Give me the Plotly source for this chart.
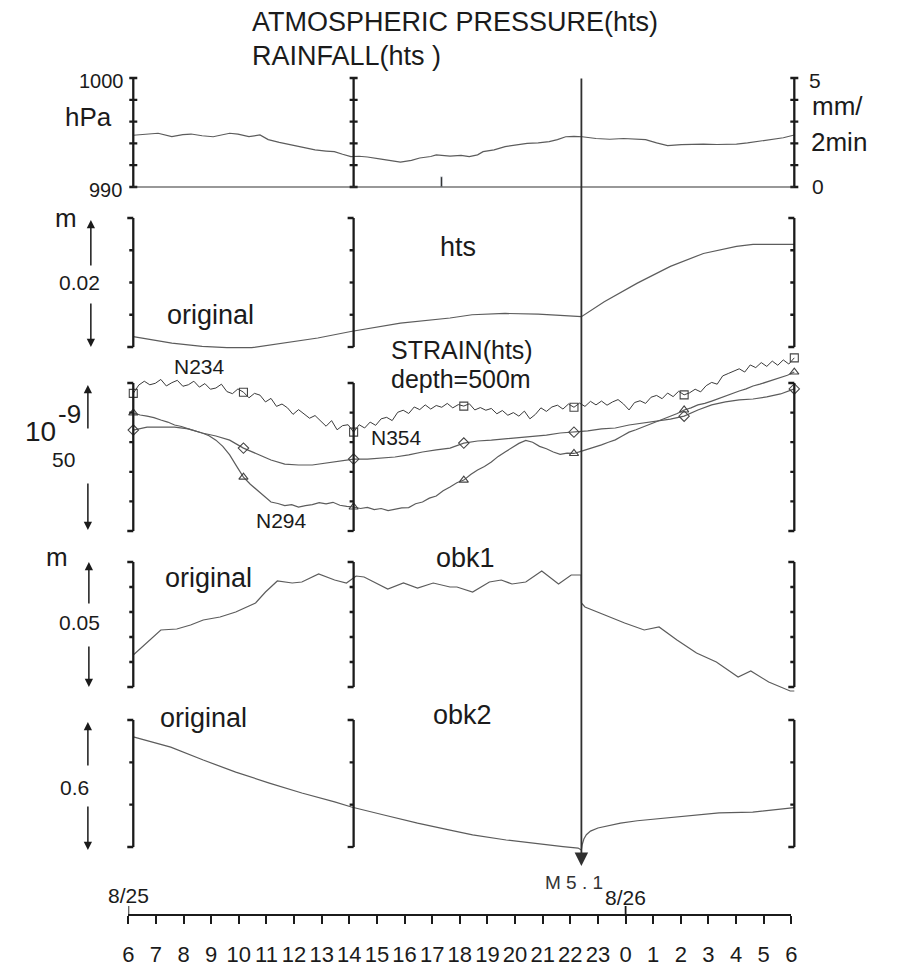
import plotly.graph_objects as go

# ---------------- data ----------------
# time axis: hours from 8/25 06:00 (6) to 8/26 06:00 (30)
HOUR_TICKS = list(range(6, 31))
HOUR_LABELS = ["6", "7", "8", "9", "10", "11", "12", "13", "14", "15", "16", "17", "18",
               "19", "20", "21", "22", "23", "0", "1", "2", "3", "4", "5", "6"]
DAY_TICKS = [6, 24]
DAY_LABELS = ["8/25", "8/26"]

QUAKE_H = 22.27
QUAKE_LABEL = "M 5 . 1"

# atmospheric pressure (hPa)
PRESSURE_H = [6.0, 6.4, 6.9, 7.4, 7.8, 8.1, 8.5, 8.9, 9.2, 9.5, 9.8, 10.2, 10.6, 10.9, 11.3,
              11.8, 12.2, 12.6, 13.0, 13.3, 13.6, 13.9, 14.2, 14.5, 15.0, 15.4, 15.7, 16.1,
              16.4, 16.8, 17.0, 17.5, 17.9, 18.2, 18.5, 18.7, 19.1, 19.5, 19.9, 20.3, 20.7,
              21.1, 21.4, 21.7, 22.0, 22.3, 22.8, 23.3, 23.8, 24.2, 24.6, 25.0, 25.4, 25.9,
              26.4, 26.7, 27.2, 27.9, 28.3, 28.6, 29.0, 29.6, 30.0]
PRESSURE_HPA = [994.75, 994.85, 994.93, 994.62, 994.80, 994.86, 994.70, 994.61, 994.75, 994.93,
                994.85, 994.62, 994.78, 994.35, 994.10, 993.85, 993.62, 993.40, 993.30, 993.24,
                993.00, 992.78, 992.82, 992.75, 992.55, 992.40, 992.29, 992.45, 992.66, 992.80,
                992.94, 992.84, 992.90, 992.78, 992.95, 993.24, 993.40, 993.70, 993.85, 994.01,
                994.05, 994.16, 994.35, 994.61, 994.65, 994.61, 994.45, 994.38, 994.45, 994.40,
                994.35, 994.05, 993.79, 993.88, 993.92, 993.94, 993.90, 993.94, 994.05, 994.16,
                994.30, 994.52, 994.77]

# rainfall (mm / 2 min)
RAIN_H = [17.2]
RAIN_MM = [0.45]

# water level hts (m, relative)
HTS_H = [6.0, 7.4, 8.5, 9.4, 10.3, 11.5, 12.7, 13.9, 15.7, 17.5, 18.3, 19.5, 20.7, 21.5,
         22.27, 23.1, 24.3, 25.5, 26.7, 27.9, 28.5, 30.0]
HTS_M = [0.0016, 0.0006, 0.0001, -0.0001, -0.0001, 0.0006, 0.0014, 0.0024, 0.0037, 0.0045,
         0.0050, 0.0052, 0.0051, 0.0049, 0.0047, 0.0070, 0.0099, 0.0125, 0.0145, 0.0156,
         0.0159, 0.0159]

# strain, depth 500 m (1e-9, relative)
N234_START, N234_STEP = 6.0, 0.2
N234 = [46.5, 49.3, 50.6, 49.4, 49.9, 51.2, 49.0, 50.1, 50.9, 48.9,
        49.4, 50.6, 48.6, 49.8, 47.9, 48.3, 49.6, 47.1, 46.4, 48.0,
        46.9, 45.0, 46.5, 45.9, 43.6, 44.8, 42.1, 42.9, 41.6, 39.4,
        41.0, 39.6, 38.1, 39.0, 37.2, 35.4, 37.3, 34.2, 35.6, 35.9,
        33.4, 35.9, 34.8, 36.8, 35.7, 37.9, 38.4, 37.3, 40.1, 40.8,
        39.7, 41.9, 41.0, 42.6, 41.2, 42.4, 41.8, 43.1, 41.6, 42.7,
        42.2, 43.0, 40.9, 41.7, 40.8, 41.4, 39.6, 40.7, 39.1, 40.0,
        38.8, 40.5, 37.9, 39.4, 41.6, 40.4, 41.9, 42.5, 41.2, 42.9,
        41.8, 43.2, 42.1, 43.8, 42.6, 43.9, 42.5, 43.6, 44.4, 42.9,
        40.9, 43.4, 44.0, 43.1, 45.2, 45.8, 44.7, 46.6, 45.4, 47.2,
        46.0, 46.7, 47.9, 47.0, 49.1, 50.2, 49.6, 52.4, 53.2, 53.9,
        54.8, 53.7, 56.1, 55.2, 56.9, 55.6, 57.4, 56.0, 57.8, 56.4,
        58.5]

N354_START, N354_STEP = 6.0, 0.5
N354 = [34.1, 35.1, 35.1, 35.1, 34.5, 33.1, 32.1, 30.7, 28.0, 26.0,
        24.0, 22.6, 22.3, 22.3, 23.0, 23.6, 24.3, 24.3, 24.7, 25.0,
        25.7, 26.7, 27.4, 28.0, 29.7, 30.4, 30.7, 31.1, 31.4, 31.8,
        32.4, 33.1, 33.4, 33.8, 34.5, 34.8, 35.8, 36.5, 37.2, 37.8,
        38.8, 40.9, 42.6, 43.6, 44.3, 44.6, 45.3, 46.3, 48.0]

N294_START, N294_STEP = 6.0, 0.25
N294 = [39.9, 39.2, 38.8, 38.3, 37.5, 36.8, 35.8, 35.3, 34.5, 33.9,
        33.1, 32.2, 30.7, 28.6, 25.7, 21.9, 18.2, 15.8, 13.8, 11.6,
        9.8, 9.3, 8.6, 8.9, 8.1, 8.6, 8.9, 9.6, 9.2, 9.7,
        8.7, 8.3, 8.1, 7.6, 8.0, 7.2, 7.6, 6.9, 7.3, 7.8,
        7.9, 9.2, 9.8, 11.1, 11.8, 13.6, 14.9, 16.3, 17.2, 19.1,
        20.6, 21.8, 23.3, 25.2, 26.7, 28.1, 29.6, 30.6, 30.0, 28.6,
        27.8, 26.7, 25.9, 26.3, 26.2, 26.9, 27.6, 28.3, 29.1, 30.0,
        30.8, 32.1, 33.4, 34.2, 35.1, 35.9, 36.8, 37.7, 38.8, 39.7,
        40.9, 41.6, 42.6, 43.1, 43.9, 44.8, 45.6, 46.5, 47.3, 48.0,
        49.0, 49.6, 50.3, 51.1, 51.7, 52.6, 53.7]

MARK_H = [6, 10, 14, 18, 22, 26, 30]

# water level obk1 (m, relative)
OBK1_H = [6.0, 6.39, 7.0, 7.58, 8.08, 8.54, 9.15, 9.72, 10.44, 10.8, 11.23, 11.77, 12.12,
          12.73, 13.31, 13.74, 14.09, 14.38, 15.24, 15.81, 16.32, 16.89, 17.5, 17.75, 18.32,
          18.93, 19.36, 19.75, 20.25, 20.83, 21.44, 21.9, 22.26, 22.27, 22.4, 23.12, 23.84,
          24.55, 25.09, 25.74, 26.45, 27.17, 27.96, 28.42, 29.07, 29.85, 30.0]
OBK1_M = [0.0128, 0.0168, 0.0228, 0.0232, 0.0248, 0.0268, 0.0280, 0.0300, 0.0336, 0.0380,
          0.0424, 0.0416, 0.0420, 0.0452, 0.0428, 0.0416, 0.0444, 0.0440, 0.0392, 0.0416,
          0.0396, 0.0416, 0.0400, 0.0400, 0.0380, 0.0420, 0.0428, 0.0412, 0.0420, 0.0464,
          0.0412, 0.0448, 0.0448, 0.0336, 0.0320, 0.0288, 0.0256, 0.0228, 0.0240, 0.0188,
          0.0136, 0.0100, 0.0040, 0.0064, 0.0020, -0.0016, -0.0016]

# water level obk2 (m, relative)
OBK2_H = [6.0, 7.36, 8.54, 9.72, 10.94, 12.12, 13.31, 13.92, 15.1, 16.32, 17.5, 18.32, 19.54,
          20.72, 21.6, 22.15, 22.27, 22.3, 22.36, 22.45, 22.6, 22.87, 23.3, 23.69, 24.3,
          24.91, 26.09, 27.27, 28.49, 29.85, 30.0]
OBK2_M = [0.520, 0.472, 0.411, 0.354, 0.302, 0.255, 0.213, 0.189, 0.151, 0.113, 0.080, 0.057,
          0.033, 0.014, 0.002, -0.005, -0.014, 0.012, 0.038, 0.058, 0.075, 0.090, 0.102,
          0.113, 0.124, 0.132, 0.146, 0.161, 0.165, 0.184, 0.186]

# scale brackets drawn at these hours, with tick values per panel
BRACKET_H = [6, 14, 30]
PRESSURE_TICKS = [990, 992, 994, 996, 998, 1000]
HTS_TICKS = [0, 0.005, 0.01, 0.015, 0.02]
STRAIN_TICKS = [0, 10, 20, 30, 40, 50]
OBK1_TICKS = [0, 0.01, 0.02, 0.03, 0.04, 0.05]
OBK2_TICKS = [0, 0.2, 0.4, 0.6]

# ---------------- layout helpers ----------------
W, H = 897, 967
FONT = "Liberation Sans, Arial, Helvetica, sans-serif"
INK = "#1b1b1b"
TRACE = "#5c5c5c"


def fx(px):
    return px / W


def fy(py):
    return 1 - py / H


X6_PX, X30_PX = 129, 799
PX_PER_H = (X30_PX - X6_PX) / 24.0
DOM_L, DOM_R = 95, 845
X_RANGE = [6 - (X6_PX - DOM_L) / PX_PER_H, 30 + (DOM_R - X30_PX) / PX_PER_H]


def panel_axis(v0, p0, v1, p1, top, bottom, **kw):
    k = (v1 - v0) / (p0 - p1)
    lo = v0 - (bottom - p0) * k
    hi = v0 + (p0 - top) * k
    d = dict(domain=[fy(bottom), fy(top)], range=[lo, hi], visible=False,
             fixedrange=True, anchor="x")
    d.update(kw)
    return d


def series_hours(start, step, values):
    return [start + step * i for i in range(len(values))]


def values_at(hours, start, step, values):
    return [values[int(round((h - start) / step))] for h in hours]


fig = go.Figure()

line_style = dict(color=TRACE, width=1.2)

fig.add_trace(go.Scatter(x=PRESSURE_H, y=PRESSURE_HPA, mode="lines", line=line_style,
                         xaxis="x", yaxis="y", hoverinfo="skip"))
fig.add_trace(go.Bar(x=RAIN_H, y=RAIN_MM, width=0.06, marker=dict(color="#333333"),
                     xaxis="x", yaxis="y2", hoverinfo="skip"))
fig.add_trace(go.Scatter(x=HTS_H, y=HTS_M, mode="lines", line=line_style,
                         xaxis="x", yaxis="y3", hoverinfo="skip"))

strain_sets = [
    (N234_START, N234_STEP, N234, "square-open", dict(color="#3a3a3a", width=1.0)),
    (N354_START, N354_STEP, N354, "diamond-open", line_style),
    (N294_START, N294_STEP, N294, "triangle-up-open", line_style),
]
for start, step, vals, sym, ls in strain_sets:
    fig.add_trace(go.Scatter(x=series_hours(start, step, vals), y=vals, mode="lines",
                             line=ls, xaxis="x", yaxis="y4", hoverinfo="skip"))
    fig.add_trace(go.Scatter(x=MARK_H, y=values_at(MARK_H, start, step, vals), mode="markers",
                             marker=dict(symbol=sym, size=8, color="#444444",
                                         line=dict(width=1.1, color="#444444")),
                             xaxis="x", yaxis="y4", hoverinfo="skip"))

fig.add_trace(go.Scatter(x=OBK1_H, y=OBK1_M, mode="lines", line=line_style,
                         xaxis="x", yaxis="y5", hoverinfo="skip"))
fig.add_trace(go.Scatter(x=OBK2_H, y=OBK2_M, mode="lines", line=line_style,
                         xaxis="x", yaxis="y6", hoverinfo="skip"))
# carrier for the time axis at the bottom
fig.add_trace(go.Scatter(x=[HOUR_TICKS[0], HOUR_TICKS[-1]], y=[0, 0], mode="markers",
                         marker=dict(opacity=0), xaxis="x2", yaxis="y7", hoverinfo="skip"))

# ---------------- shapes: scale bars ----------------
shapes = []
BAR = dict(color=INK, width=2.3)


def vline(h, yref, v0, v1):
    return dict(type="line", xref="x", yref=yref, x0=h, x1=h, y0=v0, y1=v1, line=BAR)


def hmark(h, yref, v, left, right):
    return dict(type="line", xref="x", yref=yref, xsizemode="pixel", xanchor=h,
                x0=left, x1=right, y0=v, y1=v, line=BAR)


for h in BRACKET_H:
    shapes.append(vline(h, "y", PRESSURE_TICKS[0], PRESSURE_TICKS[-1]))
    for v in PRESSURE_TICKS:
        shapes.append(hmark(h, "y", v, -4, 4))
    for yref, ticks in (("y3", HTS_TICKS), ("y4", STRAIN_TICKS),
                        ("y5", OBK1_TICKS), ("y6", OBK2_TICKS)):
        shapes.append(vline(h, yref, ticks[0], ticks[-1]))
        for i, v in enumerate(ticks):
            end = i in (0, len(ticks) - 1)
            shapes.append(hmark(h, yref, v, -6 if end else -4, 0))

# rainfall zero line along the pressure panel
shapes.append(dict(type="line", xref="x", yref="y2", x0=6, x1=30, y0=0, y1=0,
                   line=dict(color="#333333", width=1.2)))

# taller ticks for the day boundaries on the time axis
for h in DAY_TICKS:
    shapes.append(dict(type="line", xref="x2", yref="paper", x0=h, x1=h,
                       y0=fy(914), y1=fy(906), line=dict(color=INK, width=1.8)))

# ---------------- annotations ----------------
ann = []


def label(px, py, text, size, anchor="center"):
    ann.append(dict(x=fx(px), y=fy(py), xref="paper", yref="paper", text=text,
                    showarrow=False, font=dict(size=size, color=INK, family=FONT),
                    xanchor=anchor, yanchor="middle"))


def scale_arrow(px, tip, tail):
    ann.append(dict(x=fx(px), y=fy(tip), xref="paper", yref="paper", text="",
                    showarrow=True, ax=0, ay=tail - tip, arrowhead=2, arrowsize=1.1,
                    arrowwidth=1.5, arrowcolor=INK))


label(247, 22, "ATMOSPHERIC PRESSURE(hts)", 27, "left")
label(247, 56, "RAINFALL(hts )", 27, "left")
label(122, 81, "1000", 20, "right")
label(84, 117, "hPa", 26)
label(120, 190, "990", 20, "right")
label(812, 80, "5", 21, "left")
label(815, 106, "mm/", 26, "left")
label(814, 142, "2min", 26, "left")
label(815, 186, "0", 21, "left")

label(61, 218, "m", 26)
label(75, 283, "0.02", 21)
label(207, 315, "original", 27)
label(458, 247, "hts", 27)
scale_arrow(86, 220, 267)
scale_arrow(86, 347, 302)

label(388, 350, "STRAIN(hts)", 25, "left")
label(388, 379, "depth=500m", 25, "left")
label(196, 366, "N234", 21)
label(396, 438, "N354", 21)
label(279, 520, "N294", 21)
label(35, 432, "10", 28)
label(64, 414, "-9", 26)
label(58, 460, "50", 21)
scale_arrow(83, 385, 430)
scale_arrow(83, 530, 482)

label(52, 557, "m", 26)
label(205, 578, "original", 27)
label(466, 558, "obk1", 27)
label(75, 622, "0.05", 21)
scale_arrow(84, 562, 605)
scale_arrow(84, 687, 645)

label(200, 718, "original", 27)
label(463, 715, "obk2", 27)
label(69, 787, "0.6", 21)
scale_arrow(83, 722, 767)
scale_arrow(83, 850, 805)

# earthquake marker line with arrow
ann.append(dict(x=QUAKE_H, y=fy(866), xref="x", yref="paper", text="", showarrow=True,
                ax=0, ay=-(866 - 77), arrowhead=2, arrowsize=1.5, arrowwidth=1.8,
                arrowcolor="#303030"))
ann.append(dict(x=QUAKE_H, y=fy(882), xref="x", yref="paper", text=QUAKE_LABEL,
                showarrow=False, xshift=-7, font=dict(size=19, color="#333333", family=FONT),
                xanchor="center", yanchor="middle"))

for h, txt, py in zip(DAY_TICKS, DAY_LABELS, [895, 897]):
    ann.append(dict(x=h, y=fy(py), xref="x2", yref="paper", text=txt, showarrow=False,
                    font=dict(size=21, color=INK, family=FONT), xanchor="center",
                    yanchor="middle"))

fig.update_layout(
    width=W, height=H, autosize=False,
    margin=dict(l=0, r=0, t=0, b=0),
    paper_bgcolor="white", plot_bgcolor="rgba(0,0,0,0)",
    showlegend=False, bargap=0,
    font=dict(family=FONT, color=INK),
    xaxis=dict(domain=[fx(DOM_L), fx(DOM_R)], range=X_RANGE, visible=False,
               fixedrange=True, anchor="y"),
    xaxis2=dict(domain=[fx(124), fx(796)], range=[6, 30], anchor="y7",
                showline=True, linecolor=INK, linewidth=1.6, ticks="outside",
                ticklen=8, tickwidth=1.6, tickcolor=INK, tickvals=HOUR_TICKS,
                ticktext=HOUR_LABELS, tickfont=dict(size=22, color=INK, family=FONT),
                ticklabelstandoff=12, showgrid=False, zeroline=False, fixedrange=True),
    yaxis=panel_axis(990, 187, 1000, 78, 65, 195),
    yaxis2=panel_axis(0, 187, 5, 78, 65, 195, overlaying="y"),
    yaxis3=panel_axis(0, 347, 0.02, 218, 205, 360),
    yaxis4=panel_axis(0, 531, 50, 383, 340, 545),
    yaxis5=panel_axis(0, 687, 0.05, 562, 550, 702),
    yaxis6=panel_axis(0, 847, 0.6, 720, 705, 862),
    yaxis7=dict(domain=[fy(914), fy(904)], range=[-1, 1], visible=False,
                fixedrange=True, anchor="x2"),
    shapes=shapes,
    annotations=ann,
)

fig.write_html("out.html")
